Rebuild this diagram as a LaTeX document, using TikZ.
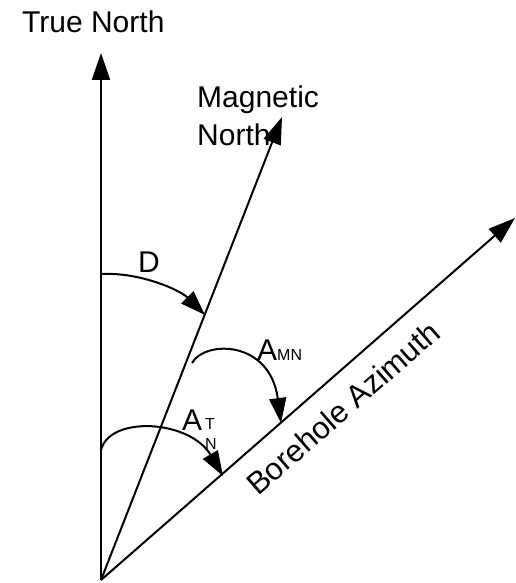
\documentclass[tikz,border=0pt]{standalone}
\usepackage{fontspec}
\setmainfont{Liberation Sans}
\usetikzlibrary{arrows.meta}
\tikzset{
  axisline/.style={line width=2pt, -{Triangle[length=27pt,width=18pt]}},
  arcline/.style={line width=2pt, -{Triangle[length=25pt,width=17pt]}},
  big/.style={inner sep=0pt, font=\fontsize{30}{36}\selectfont},
  small/.style={inner sep=0pt, font=\fontsize{16}{19}\selectfont}
}
\begin{document}
\begin{tikzpicture}[x=1pt,y=-1pt]
\useasboundingbox (0,0) rectangle (516,583);
\coordinate (O) at (101,580);
\coordinate (TN) at (101,53);
\coordinate (MN) at (282,117);
\coordinate (BA) at (515,218);
\draw[axisline] (O) -- (TN);
\draw[axisline] (O) -- (MN);
\draw[axisline] (O) -- (BA);
% arcs
\coordinate (d0) at (101,274);
\coordinate (d1) at (205,315);
\draw[arcline] (d0) .. controls (140,272) and (180,290) .. (d1);
\coordinate (m0) at (192,363);
\coordinate (m1) at (281,423);
\draw[arcline] (m0) .. controls (205,340) and (270,340) .. (m1);
\coordinate (t0) at (101,450);
\coordinate (t1) at (223,476);
\draw[arcline] (t0) .. controls (110,415) and (190,420) .. (t1);
% labels
\node[big, anchor=base west] (tnl) at (22,33) {True North};
\node[big, anchor=base west] (mnl1) at (197,108) {Magnetic};
\node[big, anchor=base west] (mnl2) at (197,145) {North};
\node[big, anchor=base west] (dl) at (138,272) {D};
\node[big, anchor=base west] (amn) at (257,360) {A\fontsize{16}{19}\selectfont MN};
\node[big, anchor=base west] (at) at (182,430) {A};
\node[small, anchor=base west] (att) at (205,429) {T};
\node[small, anchor=base west] (atn) at (205,449) {N};
\node[big, anchor=base west, rotate=41.2, font=\fontsize{31}{37}\selectfont] (bal) at (258,497) {Borehole Azimuth};
\end{tikzpicture}
\end{document}
